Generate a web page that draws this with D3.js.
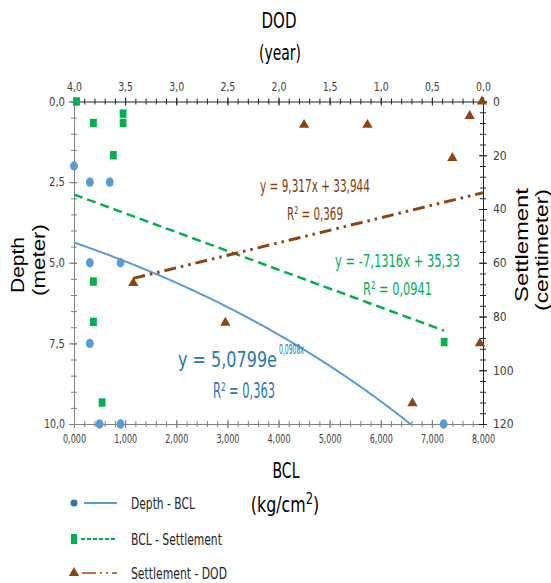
<!DOCTYPE html>
<html>
<head>
<meta charset="utf-8">
<script src="https://cdn.jsdelivr.net/npm/d3@7"></script>
<style>
  body { margin: 0; background: #fff; }
  svg { display: block; }
</style>
</head>
<body>
<svg id="chart" width="551" height="583"></svg>
<script>
// Depth - BCL (circles): BCL kg/cm2, depth m
const depthBclX = [0.0, 0.31, 0.70, 0.31, 0.91, 0.31, 0.50, 0.91, 7.23];
const depthBclY = [2.0, 2.5, 2.5, 5.0, 5.0, 7.5, 10.0, 10.0, 10.0];

// BCL - Settlement (squares): BCL kg/cm2, settlement cm
const bclSettX = [0.05, 0.38, 0.96, 0.96, 0.77, 0.38, 0.38, 0.55, 7.24];
const bclSettY = [0, 8, 4.5, 8, 20, 67, 82, 112, 89.5];

// Settlement - DOD (triangles): DOD year, settlement cm
const settDodX = [0.01, 0.13, 0.30, 1.75, 1.13, 3.42, 2.52, 0.69, 0.03];
const settDodY = [0, 5.4, 21, 8.7, 8.7, 67.5, 82.3, 112.3, 90];

// trendlines as drawn
const depthFit = { a: 4.37, b: 0.1258, from: 0, to: 7.23 };   // exponential
const bclSettFit = { a: 34.6, b: 7.0, from: 0, to: 7.24 };    // linear
const settDodFit = { a: 33.944, b: 9.317, from: 0, to: 3.42 }; // linear

const bclTicks = [0, 1, 2, 3, 4, 5, 6, 7, 8];
const dodTicks = [4, 3.5, 3, 2.5, 2, 1.5, 1, 0.5, 0];
const depthTicks = [0, 2.5, 5, 7.5, 10];
const settTicks = [0, 20, 40, 60, 80, 100, 120];

const legendLabels = ["Depth - BCL", "BCL - Settlement", "Settlement - DOD"];
const legendWidths = [64, 91, 96];

const BLUE = "#5b9bd5", BLUE_TXT = "#2e75b6", GREEN = "#00b050", BROWN = "#8b4513", BROWN_TXT = "#843c0c";
const NARROW = "'Liberation Sans Narrow','DejaVu Sans Condensed',sans-serif";
const SANS = "'Liberation Sans',Arial,sans-serif";

const svg = d3.select("#chart");
const L = 74, R = 483, T = 101.5, B = 424;

const x = d3.scaleLinear().domain([0, 8]).range([L, R]);
const xTop = d3.scaleLinear().domain([4, 0]).range([L, R]);
const yL = d3.scaleLinear().domain([0, 10]).range([T, B]);
const yR = d3.scaleLinear().domain([0, 120]).range([T, B]);

const comma = f => v => d3.format(f)(v).replace(".", ",");

svg.append("clipPath").attr("id", "plot")
  .append("rect").attr("x", L).attr("y", T - 6).attr("width", R - L + 6).attr("height", B - T + 6);

// axes
function drawAxis(axis, tr, color, cls, size) {
  const g = svg.append("g").attr("class", cls).attr("transform", tr).call(axis);
  g.select(".domain").attr("stroke", color).attr("stroke-width", 1);
  g.selectAll(".tick line").attr("stroke", color);
  g.selectAll(".tick text").attr("fill", "#404040").style("font-family", NARROW).style("font-size", size + "px");
  return g;
}

// minor ticks
function minor(axisFn, scale, vals, tr, color, horiz) {
  const g = svg.append("g").attr("transform", tr)
    .call(axisFn(scale).tickValues(vals).tickFormat("").tickSize(0));
  g.select(".domain").remove();
  g.selectAll(".tick line").attr("stroke", color)
    .attr(horiz ? "y1" : "x1", -3).attr(horiz ? "y2" : "x2", 3);
}

minor(d3.axisBottom, x, d3.range(0, 8.01, 0.2), `translate(0,${B})`, "#808080", true);
minor(d3.axisTop, xTop, d3.range(0, 4.01, 0.1), `translate(0,${T})`, "#262626", true);
minor(d3.axisLeft, yL, d3.range(0, 10.01, 0.5), `translate(${L},0)`, "#808080", false);
minor(d3.axisRight, yR, d3.range(0, 120.1, 4), `translate(${R},0)`, "#262626", false);

const gb = drawAxis(d3.axisBottom(x).tickValues(bclTicks).tickFormat(comma(".3f")).tickSize(4).tickPadding(6),
  `translate(0,${B})`, "#808080", "ax-b", 12.5);
gb.selectAll(".tick line").attr("y1", -4);
gb.selectAll(".tick text").attr("textLength", 23).attr("lengthAdjust", "spacingAndGlyphs");
const gt = drawAxis(d3.axisTop(xTop).tickValues(dodTicks).tickFormat(comma(".1f")).tickSize(4).tickPadding(7),
  `translate(0,${T})`, "#262626", "ax-t", 12.5);
gt.selectAll(".tick line").attr("y1", 4);
gt.selectAll(".tick text").attr("textLength", 15).attr("lengthAdjust", "spacingAndGlyphs");
const gl = drawAxis(d3.axisLeft(yL).tickValues(depthTicks).tickFormat(comma(".1f")).tickSize(5).tickPadding(4),
  `translate(${L},0)`, "#808080", "ax-l", 12);
gl.selectAll(".tick line").attr("x1", 3);
gl.selectAll(".tick text").attr("textLength", d => d >= 10 ? 21 : 16).attr("lengthAdjust", "spacingAndGlyphs");
const gr = drawAxis(d3.axisRight(yR).tickValues(settTicks).tickFormat(d3.format("d")).tickSize(4).tickPadding(6),
  `translate(${R},0)`, "#262626", "ax-r", 12);
gr.selectAll(".tick line").attr("x1", -4);

// trendlines
const plot = svg.append("g").attr("clip-path", "url(#plot)");
const sample = (f) => d3.range(f.from, f.to, 0.02).concat([f.to]);

plot.append("path")
  .datum(sample(depthFit))
  .attr("fill", "none").attr("stroke", BLUE).attr("stroke-width", 2)
  .attr("d", d3.line().x(d => x(d)).y(d => yL(depthFit.a * Math.exp(depthFit.b * d))));

plot.append("path")
  .datum([bclSettFit.from, bclSettFit.to])
  .attr("fill", "none").attr("stroke", GREEN).attr("stroke-width", 2.5)
  .attr("stroke-dasharray", "9 5")
  .attr("d", d3.line().x(d => x(d)).y(d => yR(bclSettFit.a + bclSettFit.b * d)));

plot.append("path")
  .datum([settDodFit.to, settDodFit.from])
  .attr("fill", "none").attr("stroke", BROWN).attr("stroke-width", 3)
  .attr("stroke-dasharray", "12 5 2.5 5 2.5 5")
  .attr("d", d3.line().x(d => xTop(d)).y(d => yR(settDodFit.a + settDodFit.b * d)));

// markers
const tri = d3.symbol().type(d3.symbolTriangle).size(46);

svg.append("g").selectAll("ellipse")
  .data(depthBclX.map((v, i) => [v, depthBclY[i]]))
  .join("ellipse")
  .attr("cx", d => x(d[0])).attr("cy", d => yL(d[1]))
  .attr("rx", 3.9).attr("ry", 4.7).attr("fill", BLUE);

svg.append("g").selectAll("rect")
  .data(bclSettX.map((v, i) => [v, bclSettY[i]]))
  .join("rect")
  .attr("x", d => x(d[0]) - 3.4).attr("y", d => yR(d[1]) - 4.2)
  .attr("width", 6.8).attr("height", 8.4).attr("fill", GREEN);

svg.append("g").selectAll("path")
  .data(settDodX.map((v, i) => [v, settDodY[i]]))
  .join("path")
  .attr("d", tri)
  .attr("transform", d => `translate(${xTop(d[0])},${yR(d[1])})`)
  .attr("fill", BROWN);

// squeezed text: scale horizontally to the width seen in the picture
function squeeze(txt, x0, y0, size, len, color, font, rot, anchor) {
  const t = svg.append("text").attr("text-anchor", anchor || "start")
    .style("font-family", font || NARROW).style("font-size", size + "px")
    .attr("fill", color).text(txt);
  const w = t.node().getComputedTextLength();
  const k = len / w;
  t.attr("transform", `translate(${x0},${y0})` + (rot ? ` rotate(${rot})` : "") + ` scale(${k},1)`);
  return t;
}
squeeze("y = 9,317x + 33,944", 260, 192, 18, 110, BROWN_TXT);
squeeze("R\u00b2 = 0,369", 287, 220, 18, 56, BROWN_TXT);
squeeze("y = -7,1316x + 35,33", 335, 267, 18, 125, GREEN);
squeeze("R\u00b2 = 0,0941", 363, 295, 18, 69, GREEN);
squeeze("y = 5,0799e", 178, 367, 22, 99, BLUE_TXT);
squeeze("0,0908x", 279, 354, 14, 25, BLUE_TXT);
squeeze("R\u00b2 = 0,363", 213, 398, 21, 62, BLUE_TXT);

// axis titles
squeeze("DOD", 279, 28, 22, 35, "#000", NARROW, 0, "middle");
squeeze("(year)", 280, 60, 22, 42, "#000", NARROW, 0, "middle");
squeeze("BCL", 286, 478, 22, 27, "#000", NARROW, 0, "middle");
const kg = svg.append("text").attr("text-anchor", "middle")
  .attr("transform", "translate(285,512) scale(0.8,1)")
  .style("font-family", NARROW).style("font-size", "22px").attr("fill", "#000");
kg.append("tspan").text("(kg/cm");
kg.append("tspan").attr("dy", -8).style("font-size", "16px").text("2");
kg.append("tspan").attr("dy", 8).text(")");

squeeze("Depth", 24, 265, 19, 56, "#000", SANS, -90, "middle");
squeeze("(meter)", 45, 260, 19, 72, "#000", SANS, -90, "middle");
squeeze("Settlement", 528, 245, 18, 114, "#000", SANS, -90, "middle");
squeeze("(centimeter)", 548, 250, 18, 122, "#000", SANS, -90, "middle");

// legend
const lg = svg.append("g");
const rows = [503, 539, 573];
lg.append("circle").attr("cx", 74).attr("cy", rows[0]).attr("r", 3.5).attr("fill", "#2e75b6");
lg.append("line").attr("x1", 84).attr("x2", 117).attr("y1", rows[0]).attr("y2", rows[0])
  .attr("stroke", BLUE).attr("stroke-width", 2);
lg.append("rect").attr("x", 71).attr("y", rows[1] - 5).attr("width", 6).attr("height", 10).attr("fill", GREEN);
lg.append("line").attr("x1", 81).attr("x2", 117).attr("y1", rows[1]).attr("y2", rows[1])
  .attr("stroke", GREEN).attr("stroke-width", 2).attr("stroke-dasharray", "4 2");
lg.append("path").attr("d", tri).attr("transform", `translate(74,${rows[2]})`).attr("fill", BROWN);
lg.append("line").attr("x1", 82).attr("x2", 117).attr("y1", rows[2]).attr("y2", rows[2])
  .attr("stroke", "#c0703a").attr("stroke-width", 2).attr("stroke-dasharray", "14 4 2 4 2 4");
legendLabels.forEach((d, i) => squeeze(d, 131, rows[i] + 5.5, 16.5, legendWidths[i], "#262626"));
</script>
</body>
</html>
